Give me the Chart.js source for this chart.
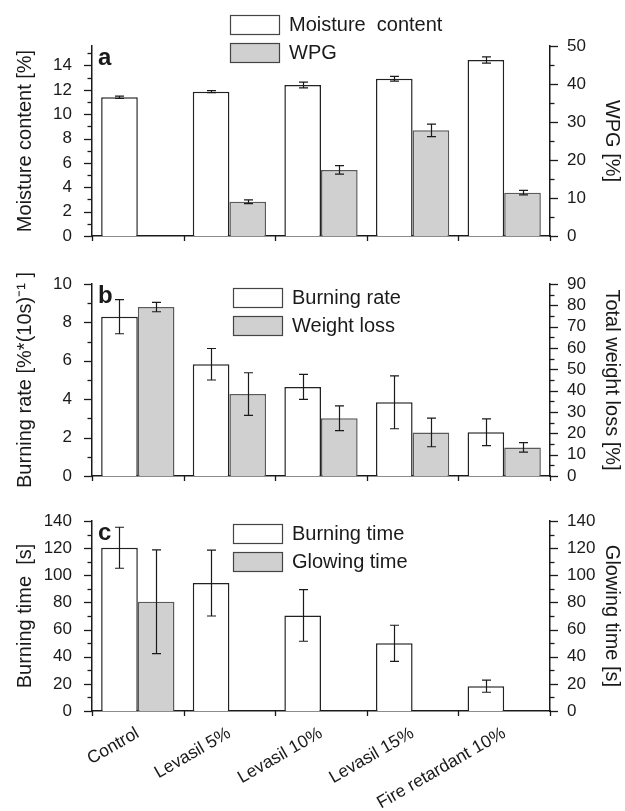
<!DOCTYPE html>
<html>
<head>
<meta charset="utf-8">
<script src="https://cdn.jsdelivr.net/npm/chart.js@4.4.0/dist/chart.umd.min.js"></script>
<style>
    html, body { margin: 0; padding: 0; background: #fff; }
    body { width: 625px; height: 811px; position: relative; overflow: hidden; }
    canvas { position: absolute; left: 0; }
</style>
</head>
<body>
<canvas id="chartA" width="625" height="250" style="top:0"></canvas>
<canvas id="chartB" width="625" height="240" style="top:250px"></canvas>
<canvas id="chartC" width="625" height="321" style="top:490px"></canvas>
<script>
const categories = ['Control', 'Levasil 5%', 'Levasil 10%', 'Levasil 15%', 'Fire retardant 10%'];

// panel a
const moisture = [11.39, 11.85, 12.40, 12.91, 14.45];
const moistureErr = [0.1, 0.08, 0.23, 0.2, 0.25];
const wpg = [null, 9.0, 17.4, 27.8, 11.4];
const wpgErr = [null, 0.5, 1.1, 1.65, 0.6];

// panel b
const burningRate = [8.3, 5.82, 4.64, 3.84, 2.28];
const burningRateErr = [0.89, 0.82, 0.65, 1.38, 0.7];
const weightLoss = [79.2, 38.4, 27.1, 20.4, 13.4];
const weightLossErr = [2.2, 10, 5.8, 6.7, 2.2];

// panel c
const burningTime = [120.3, 94.3, 70.4, 49.9, 18.3];
const burningTimeErr = [15.1, 24.3, 19, 13.3, 4.5];
const glowingTime = [80.5, null, null, null, null];
const glowingTimeErr = [38.2, null, null, null, null];

// axis ranges: [max, label step, minor step]
const axisA = { left: [15.6, 2, 1], right: [50, 10, 5] };
const axisB = { left: [10, 2, 1], right: [90, 10, 5] };
const axisC = { left: [140, 20, 10], right: [140, 20, 10] };

const INK = '#1a1a1a';
const GREY = '#d0d0d0';

Chart.defaults.font.family = '"Liberation Sans", Arial, sans-serif';
Chart.defaults.color = INK;

function onStep(v, step) {
    return Math.abs(v / step - Math.round(v / step)) < 1e-6;
}

const axisMarks = {
    id: 'axisMarks',
    afterDraw(chart, args, opts) {
        const ctx = chart.ctx;
        ctx.save();
        ctx.strokeStyle = INK;
        ctx.lineWidth = 1.3;
        ['y', 'y1'].forEach((id) => {
            const scale = chart.scales[id];
            const [, major, minor] = opts[id];
            const left = scale.position === 'left';
            const x0 = left ? chart.chartArea.left : chart.chartArea.right;
            const dir = left ? -1 : 1;
            for (let i = 0; i * minor <= scale.max + 1e-9; i++) {
                const v = i * minor;
                const len = onStep(v, major) ? 8 : 4.5;
                const y = Math.round(scale.getPixelForValue(v)) + 0.5;
                ctx.beginPath();
                ctx.moveTo(x0, y);
                ctx.lineTo(x0 + dir * len, y);
                ctx.stroke();
            }
        });
        const xs = chart.scales.x;
        for (let i = 0; i <= categories.length; i++) {
            const x = Math.round(xs.getPixelForValue(i - 0.5)) + 0.5;
            ctx.beginPath();
            ctx.moveTo(x, xs.top);
            ctx.lineTo(x, xs.top + 5);
            ctx.stroke();
        }
        ctx.restore();
    }
};

const errorBars = {
    id: 'errorBars',
    afterDatasetsDraw(chart) {
        const ctx = chart.ctx;
        ctx.save();
        ctx.strokeStyle = INK;
        ctx.lineWidth = 1.2;
        chart.data.datasets.forEach((ds, i) => {
            const meta = chart.getDatasetMeta(i);
            const yScale = chart.scales[meta.yAxisID];
            meta.data.forEach((bar, j) => {
                const v = ds.data[j];
                const e = ds.errors[j];
                if (v == null || e == null) return;
                const x = Math.round(bar.x) + 0.5;
                const hi = yScale.getPixelForValue(v + e);
                const lo = yScale.getPixelForValue(v - e);
                ctx.beginPath();
                ctx.moveTo(x, hi);
                ctx.lineTo(x, lo);
                ctx.moveTo(x - 4.5, hi);
                ctx.lineTo(x + 4.5, hi);
                ctx.moveTo(x - 4.5, lo);
                ctx.lineTo(x + 4.5, lo);
                ctx.stroke();
            });
        });
        ctx.restore();
    }
};

const boxLegend = {
    id: 'boxLegend',
    afterDraw(chart, args, opts) {
        const ctx = chart.ctx;
        const area = chart.chartArea;
        ctx.save();
        ctx.font = '20px "Liberation Sans", Arial, sans-serif';
        ctx.textBaseline = 'middle';
        chart.data.datasets.forEach((ds, i) => {
            const x = area.left + opts.left;
            const y = area.top + opts.top + i * 28;
            ctx.fillStyle = ds.backgroundColor;
            ctx.fillRect(x, y, 49, 19);
            ctx.strokeStyle = '#444';
            ctx.lineWidth = 1.2;
            ctx.strokeRect(x + 0.5, y + 0.5, 49, 19);
            ctx.fillStyle = INK;
            ctx.fillText(ds.label, x + 59, y + 10);
        });
        ctx.fillStyle = INK;
        ctx.font = 'bold 24px "Liberation Sans", Arial, sans-serif';
        ctx.textBaseline = 'alphabetic';
        ctx.fillText(opts.letter, area.left + 6, area.top + 19);
        ctx.restore();
    }
};

function yAxis(position, range, title, titlePad) {
    const [max, step] = range;
    return {
        position: position,
        min: 0,
        max: max,
        // ticks are drawn by axisMarks; tickLength only sets the label gap
        grid: { display: false, drawTicks: true, tickLength: position === 'left' ? 20 : 17 },
        border: { display: true, color: INK, width: 1.5 },
        ticks: {
            stepSize: step,
            autoSkip: false,
            padding: 0,
            font: { size: 17 },
            callback: (v) => onStep(v, step) ? v : ''
        },
        title: { display: true, text: title, font: { size: 20 }, padding: { top: titlePad, bottom: 0 } },
        afterFit(scale) { scale.width = position === 'left' ? 92 : 75; }
    };
}

function makePanel(id, opts) {
    return new Chart(document.getElementById(id), {
        type: 'bar',
        data: {
            labels: categories,
            datasets: [
                {
                    label: opts.names[0], data: opts.series[0], errors: opts.errors[0], yAxisID: 'y',
                    backgroundColor: '#ffffff', borderColor: '#222', borderWidth: 1.5
                },
                {
                    label: opts.names[1], data: opts.series[1], errors: opts.errors[1], yAxisID: 'y1',
                    backgroundColor: GREY, borderColor: '#5a5a5a', borderWidth: 1.5
                }
            ]
        },
        options: {
            responsive: false,
            animation: false,
            devicePixelRatio: 1,
            layout: { padding: { top: opts.padTop, left: 0, right: 0, bottom: 0 } },
            datasets: { bar: { categoryPercentage: 0.8, barPercentage: 1.0 } },
            scales: {
                x: {
                    offset: true,
                    grid: { display: false, drawTicks: false },
                    border: { display: true, color: INK, width: 1.5 },
                    ticks: {
                        display: opts.showLabels,
                        autoSkip: false,
                        minRotation: 30,
                        maxRotation: 30,
                        padding: 12,
                        font: { size: 17.5 }
                    },
                    afterFit(scale) { scale.height = opts.xHeight; }
                },
                y: yAxis('left', opts.axes.left, opts.titles[0], 13),
                y1: yAxis('right', opts.axes.right, opts.titles[1], 1)
            },
            plugins: {
                legend: { display: false },
                tooltip: { enabled: false },
                axisMarks: { y: opts.axes.left, y1: opts.axes.right },
                boxLegend: { left: opts.legendLeft, top: opts.legendTop, letter: opts.letter }
            }
        },
        plugins: [axisMarks, errorBars, boxLegend]
    });
}

makePanel('chartA', {
    names: ['Moisture  content', 'WPG'],
    series: [moisture, wpg],
    errors: [moistureErr, wpgErr],
    axes: axisA,
    titles: ['Moisture content [%]', 'WPG [%]'],
    padTop: 46, xHeight: 14, showLabels: false,
    legendLeft: 138, legendTop: -31, letter: 'a'
});

makePanel('chartB', {
    names: ['Burning rate', 'Weight loss'],
    series: [burningRate, weightLoss],
    errors: [burningRateErr, weightLossErr],
    axes: axisB,
    titles: ['Burning rate [%*(10s)\u207B\u00B9 ]', 'Total weight loss [%]'],
    padTop: 34, xHeight: 14, showLabels: false,
    legendLeft: 141, legendTop: 4, letter: 'b'
});

makePanel('chartC', {
    names: ['Burning time', 'Glowing time'],
    series: [burningTime, glowingTime],
    errors: [burningTimeErr, glowingTimeErr],
    axes: axisC,
    titles: ['Burning time  [s]', 'Glowing time [s]'],
    padTop: 31, xHeight: 100, showLabels: true,
    legendLeft: 141, legendTop: 3, letter: 'c'
});
</script>
</body>
</html>
